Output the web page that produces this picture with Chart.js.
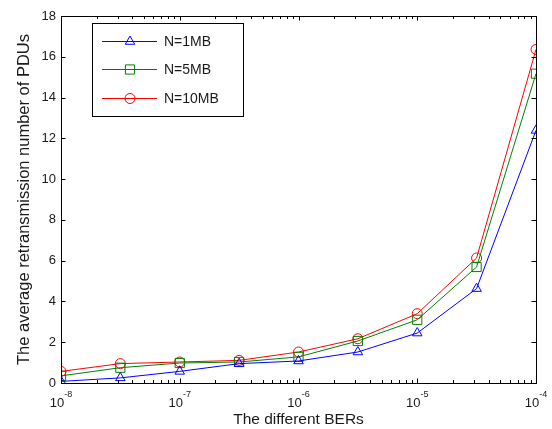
<!DOCTYPE html>
<html lang="en">
<head>
<meta charset="UTF-8">
<title>Retransmission vs BER</title>
<script src="https://cdn.jsdelivr.net/npm/chart.js"></script>
<style>
  html, body { margin: 0; padding: 0; background: #fff; }
  #wrap { width: 552px; height: 429px; position: relative; }
</style>
</head>
<body>
<div id="wrap"><canvas id="berChart" width="552" height="429"></canvas></div>
<script>
// data
const berValues = [1e-8, 3.16e-8, 1e-7, 3.16e-7, 1e-6, 3.16e-6, 1e-5, 3.16e-5, 1e-4];
const n1MB  = [0.08, 0.25, 0.57, 0.95, 1.08, 1.52, 2.45, 4.63, 12.39];
const n5MB  = [0.35, 0.75, 0.98, 1.03, 1.28, 2.06, 3.10, 5.69, 15.17];
const n10MB = [0.57, 0.95, 1.03, 1.11, 1.52, 2.17, 3.40, 6.13, 16.36];
const seriesLabels = ['N=1MB', 'N=5MB', 'N=10MB'];
const xTickExponents = [-8, -7, -6, -5, -4];
const yTicks = [0, 2, 4, 6, 8, 10, 12, 14, 16, 18];

const FONT = 'Arial, "Liberation Sans", sans-serif';

function toPoints(ys) {
  return berValues.map((x, i) => ({ x: x, y: ys[i] }));
}

function makeSet(label, data, color, style, radius) {
  return {
    label: label,
    data: toPoints(data),
    borderColor: color,
    backgroundColor: color,
    borderWidth: 1,
    tension: 0,
    pointStyle: style,
    pointRadius: radius,
    pointHoverRadius: radius,
    pointBorderColor: color,
    pointBackgroundColor: 'rgba(0,0,0,0)',
    pointBorderWidth: 1
  };
}

// MATLAB-like box, inward ticks, x labels 10^n, legend inside
const matlabAxes = {
  id: 'matlabAxes',
  afterDraw(chart) {
    const ctx = chart.ctx;
    const a = chart.chartArea;
    const xs = chart.scales.x, ys = chart.scales.y;
    ctx.save();
    ctx.strokeStyle = '#000';
    ctx.lineWidth = 1;
    ctx.strokeRect(Math.round(a.left) + 0.5, Math.round(a.top) + 0.5,
      Math.round(a.right - a.left), Math.round(a.bottom - a.top));

    ctx.beginPath();
    // y ticks, left and right
    yTicks.forEach(v => {
      const py = Math.round(ys.getPixelForValue(v)) + 0.5;
      ctx.moveTo(a.left, py); ctx.lineTo(a.left + 4.5, py);
      ctx.moveTo(a.right, py); ctx.lineTo(a.right - 4.5, py);
    });
    // x ticks, bottom and top
    xTickExponents.forEach((e, i) => {
      const px = Math.round(xs.getPixelForValue(Math.pow(10, e))) + 0.5;
      ctx.moveTo(px, a.bottom); ctx.lineTo(px, a.bottom - 4.5);
      ctx.moveTo(px, a.top); ctx.lineTo(px, a.top + 4.5);
      if (i < xTickExponents.length - 1) {
        for (let k = 2; k <= 9; k++) {
          const mx = Math.round(xs.getPixelForValue(k * Math.pow(10, e))) + 0.5;
          ctx.moveTo(mx, a.bottom); ctx.lineTo(mx, a.bottom - 3);
          ctx.moveTo(mx, a.top); ctx.lineTo(mx, a.top + 3);
        }
      }
    });
    ctx.stroke();

    // x tick labels
    ctx.fillStyle = '#1a1a1a';
    ctx.textBaseline = 'alphabetic';
    ctx.textAlign = 'left';
    xTickExponents.forEach(e => {
      const px = xs.getPixelForValue(Math.pow(10, e));
      ctx.font = '13px ' + FONT;
      const base = '10';
      const wb = ctx.measureText(base).width;
      ctx.font = '9px ' + FONT;
      const sup = String(e);
      const ws = ctx.measureText(sup).width;
      const x0 = px - (wb + ws) / 2;
      ctx.font = '13px ' + FONT;
      ctx.fillText(base, x0, 407);
      ctx.font = '9px ' + FONT;
      ctx.fillText(sup, x0 + wb, 397);
    });

    // legend
    const lx = 92, ly = 23, lw = 151, lh = 93;
    ctx.fillStyle = '#fff';
    ctx.fillRect(lx, ly, lw, lh);
    ctx.strokeStyle = '#000';
    ctx.strokeRect(lx + 0.5, ly + 0.5, lw, lh);
    const rows = [41, 69, 98];
    chart.data.datasets.forEach((ds, i) => {
      const y = rows[i] + 0.5;
      ctx.fillStyle = 'rgba(0,0,0,0)';
      ctx.strokeStyle = ds.borderColor;
      ctx.lineWidth = 1;
      Chart.helpers.drawPoint(ctx, {
        pointStyle: ds.pointStyle, radius: ds.pointRadius, borderWidth: 1, rotation: 0
      }, 130, y);
      ctx.strokeStyle = ds.borderColor;
      ctx.beginPath();
      ctx.moveTo(102, y); ctx.lineTo(157, y);
      ctx.stroke();
      ctx.fillStyle = '#1a1a1a';
      ctx.font = '14px ' + FONT;
      ctx.textBaseline = 'middle';
      ctx.fillText(ds.label, 164, rows[i] + 1);
    });
    ctx.restore();
  }
};

new Chart(document.getElementById('berChart'), {
  type: 'line',
  data: {
    datasets: [
      makeSet(seriesLabels[0], n1MB, '#0000ff', 'triangle', 5.5),
      makeSet(seriesLabels[1], n5MB, '#008000', 'rect', 6.5),
      makeSet(seriesLabels[2], n10MB, '#ff0000', 'circle', 5)
    ]
  },
  options: {
    responsive: false,
    animation: false,
    devicePixelRatio: 1,
    layout: { padding: { left: 11, right: 16, top: 16, bottom: 0 } },
    plugins: { legend: { display: false }, tooltip: { enabled: false } },
    scales: {
      x: {
        type: 'logarithmic',
        min: 1e-8,
        max: 1e-4,
        grid: { display: false, drawTicks: false },
        border: { display: false },
        ticks: { display: false },
        title: {
          display: true,
          text: 'The different BERs',
          color: '#1a1a1a',
          font: { family: FONT, size: 15.5 },
          padding: { top: 0, bottom: 0 }
        },
        afterFit(scale) { scale.height = 46; }
      },
      y: {
        min: 0,
        max: 18,
        grid: { display: false, drawTicks: false },
        border: { display: false },
        ticks: {
          stepSize: 2,
          padding: 5,
          color: '#1a1a1a',
          font: { family: FONT, size: 13 }
        },
        title: {
          display: true,
          text: 'The average retransmission number of PDUs',
          color: '#1a1a1a',
          font: { family: FONT, size: 16.5 },
          padding: { top: 4, bottom: 4 }
        },
        afterFit(scale) { scale.width = 50; }
      }
    }
  },
  plugins: [matlabAxes]
});
</script>
</body>
</html>
